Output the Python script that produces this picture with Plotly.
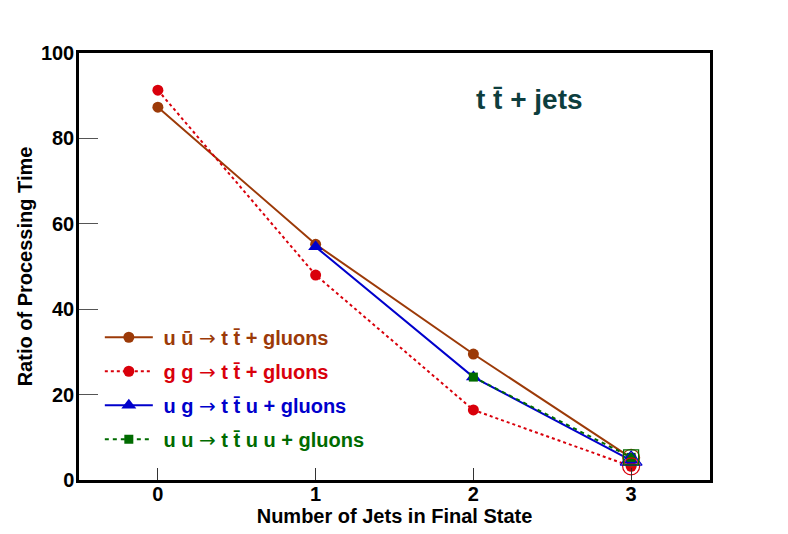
import plotly.graph_objects as go

jets = [0, 1, 2, 3]

uubar_x = [0, 1, 2, 3]
uubar_y = [87.3, 55.2, 29.5, 5.2]

gg_x = [0, 1, 2, 3]
gg_y = [91.3, 48.0, 16.4, 3.2]

ug_x = [1, 2, 3]
ug_y = [54.6, 24.1, 4.6]

uu_x = [2, 3]
uu_y = [24.1, 5.3]

BROWN = "#9c3a08"
RED = "#d9000b"
BLUE = "#0000cc"
GREEN = "#006b00"

arrow = '<span style="font-family:DejaVu Sans;font-weight:normal">→</span>'
names = [
    f'<span style="color:{BROWN}"> u ū {arrow} t t̄ + gluons</span>',
    f'<span style="color:{RED}"> g g {arrow} t t̄ + gluons</span>',
    f'<span style="color:{BLUE}"> u g {arrow} t t̄ u + gluons</span>',
    f'<span style="color:{GREEN}"> u u {arrow} t t̄ u u + gluons</span>',
]

fig = go.Figure()

series = [
    (uubar_x, uubar_y, BROWN, "solid", "circle", 11),
    (gg_x, gg_y, RED, "dot", "circle", 11),
    (ug_x, ug_y, BLUE, "solid", "triangle-up", 13),
    (uu_x, uu_y, GREEN, "4px,4px", "square", 9),
]

for i, (xs, ys, col, dash, sym, sz) in enumerate(series):
    fig.add_trace(go.Scatter(
        x=xs, y=ys, mode="lines+markers", name=names[i],
        legendgroup=str(i),
        line=dict(color=col, dash=dash, width=2),
        marker=dict(color=col, symbol=sym, size=sz),
    ))

# open markers overdrawn at the last point
for i, (xs, ys, col, dash, sym, sz) in enumerate(series):
    fig.add_trace(go.Scatter(
        x=xs[-1:], y=ys[-1:], mode="markers", showlegend=False,
        marker=dict(color=col, symbol=sym + "-open", size=sz + 6,
                    line=dict(width=1.2)),
        hoverinfo="skip",
    ))

fig.add_annotation(
    x=0.714, y=0.89, xref="paper", yref="paper",
    xanchor="center", yanchor="middle",
    text="t t̄ + jets", showarrow=False,
    font=dict(size=28, color="#0d3e3e", family="Liberation Sans", weight="bold"),
)

fig.update_layout(
    width=788, height=534,
    margin=dict(l=71, r=86, t=45, b=62),
    plot_bgcolor="white", paper_bgcolor="white",
    font=dict(family="Liberation Sans", size=20, color="black", weight="bold"),
    showlegend=True,
    legend=dict(
        x=0.033, y=0.38, xanchor="left", yanchor="top",
        bgcolor="rgba(0,0,0,0)", tracegroupgap=5,
        font=dict(size=20, weight="bold"),
        itemwidth=48,
    ),
    xaxis=dict(
        range=[-0.5, 3.5], tickvals=jets, ticks="inside", ticklen=12,
        tickcolor="#333", tickwidth=1.2, ticklabelstandoff=-6,
        showgrid=False, zeroline=False, showline=True, linecolor="black",
        linewidth=2.5, mirror=True,
        tickfont=dict(size=20, weight="bold"),
        title=dict(text="Number of Jets in Final State", standoff=4,
                   font=dict(size=20, weight="bold")),
    ),
    yaxis=dict(
        range=[0, 100], tickvals=[0, 20, 40, 60, 80, 100], ticks="inside",
        ticklen=19, tickcolor="#555", tickwidth=1.2, ticklabelstandoff=-2,
        showgrid=False, zeroline=False, showline=True, linecolor="black",
        linewidth=2.5, mirror=True,
        tickfont=dict(size=20, weight="bold"),
        title=dict(text="Ratio of Processing Time", standoff=3,
                   font=dict(size=20, weight="bold")),
    ),
)

fig.write_html("out.html")
